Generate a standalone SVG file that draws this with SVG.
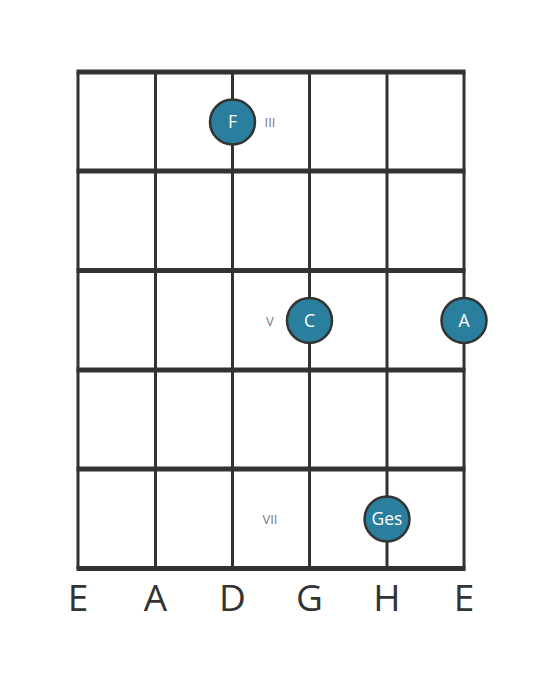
<svg xmlns="http://www.w3.org/2000/svg" width="559" height="682" viewBox="0 0 559 682">
<style>
.str{stroke:#333;stroke-width:3;}
.fret{stroke:#333;stroke-width:5;}
.dot{fill:#2a7f9e;stroke:#333;stroke-width:2.5;}
.note{font-family:"Open Sans","DejaVu Sans",sans-serif;font-size:17.5px;fill:#fff;text-anchor:middle;}
.pos{font-family:"Open Sans","DejaVu Sans",sans-serif;font-size:13px;fill:#777;text-anchor:middle;}
.lbl{font-family:"Open Sans","DejaVu Sans",sans-serif;font-size:37px;fill:#333;text-anchor:middle;}
</style>
<rect width="559" height="682" fill="#fff"/>
<g id="grid">
<line class="str" x1="78" y1="72" x2="78" y2="569"/>
<line class="str" x1="155.5" y1="72" x2="155.5" y2="569"/>
<line class="str" x1="232.5" y1="72" x2="232.5" y2="569"/>
<line class="str" x1="309.5" y1="72" x2="309.5" y2="569"/>
<line class="str" x1="387" y1="72" x2="387" y2="569"/>
<line class="str" x1="464" y1="72" x2="464" y2="569"/>
<line class="fret" x1="76.5" y1="72" x2="465.5" y2="72"/>
<line class="fret" x1="76.5" y1="171" x2="465.5" y2="171"/>
<line class="fret" x1="76.5" y1="270.5" x2="465.5" y2="270.5"/>
<line class="fret" x1="76.5" y1="370" x2="465.5" y2="370"/>
<line class="fret" x1="76.5" y1="469" x2="465.5" y2="469"/>
<line class="fret" x1="76.5" y1="568.5" x2="465.5" y2="568.5"/>
</g>
<g id="positions">
<text class="pos" x="270" y="127">III</text>
<text class="pos" x="270" y="326">V</text>
<text class="pos" x="270" y="524">VII</text>
</g>
<g id="note-F"><circle class="dot" cx="232.5" cy="122" r="22.5"/><text class="note" x="232.5" y="128">F</text></g>
<g id="note-C"><circle class="dot" cx="309.5" cy="320.5" r="22.5"/><text class="note" x="309.5" y="326.5">C</text></g>
<g id="note-A"><circle class="dot" cx="464" cy="320.5" r="22.5"/><text class="note" x="464" y="326.5">A</text></g>
<g id="note-Ges"><circle class="dot" cx="387" cy="519" r="22.5"/><text class="note" x="387" y="525">Ges</text></g>
<g id="strings">
<text class="lbl" x="78" y="611">E</text>
<text class="lbl" x="155.5" y="611">A</text>
<text class="lbl" x="232.5" y="611">D</text>
<text class="lbl" x="309.5" y="611">G</text>
<text class="lbl" x="387" y="611">H</text>
<text class="lbl" x="464" y="611">E</text>
</g>
</svg>
